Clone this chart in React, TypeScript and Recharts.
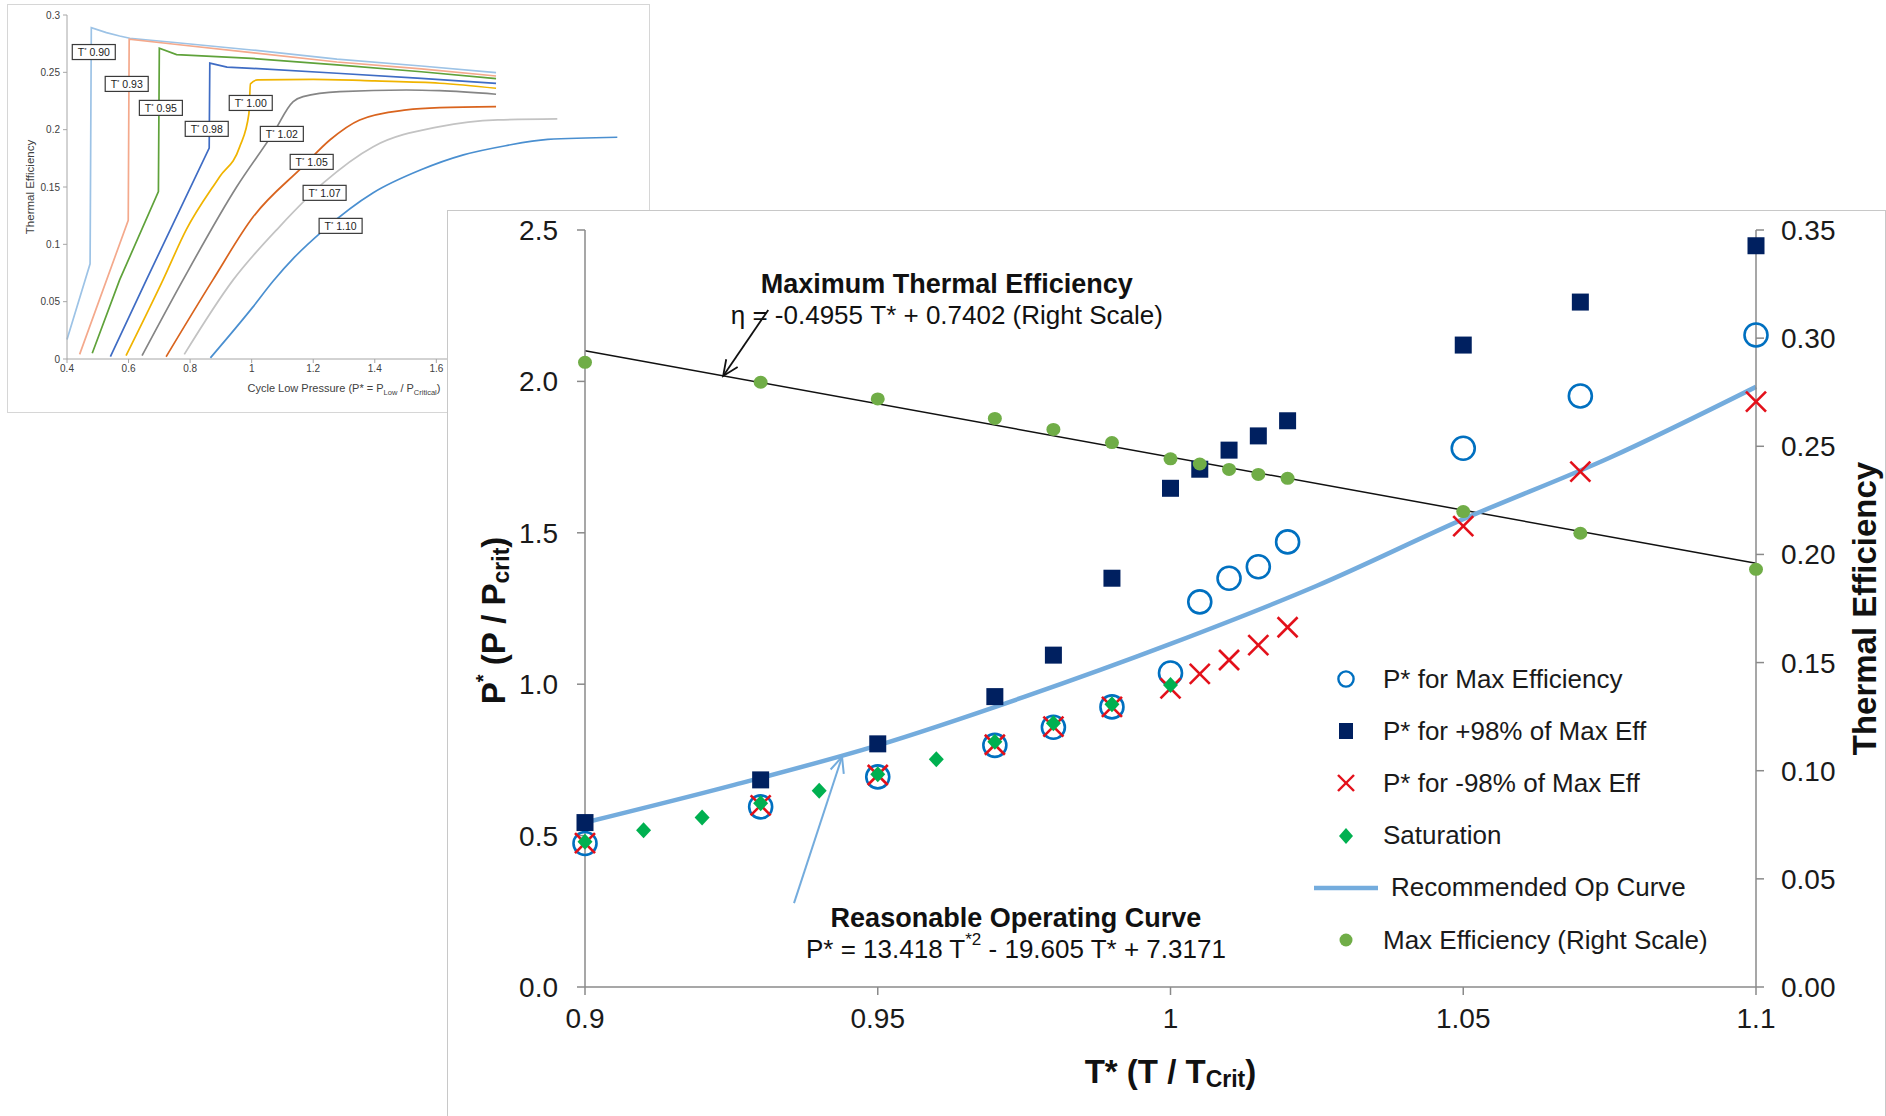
import React from "react"
import {
  ComposedChart,
  LineChart,
  Line,
  Scatter,
  XAxis,
  YAxis,
  ReferenceDot,
  ReferenceLine,
  Legend,
  Label,
} from "recharts"

const FONT = '"Liberation Sans", Arial, Helvetica, sans-serif'

// ---- main chart: T* = T / Tcrit ----
const tStar = [0.9, 0.93, 0.95, 0.97, 0.98, 0.99, 1.0, 1.005, 1.01, 1.015, 1.02, 1.05, 1.07, 1.1]
const pForMaxEff = [0.474, 0.595, 0.694, 0.798, 0.858, 0.925, 1.037, 1.272, 1.35, 1.388, 1.47, 1.779, 1.952, 2.153]
const pPlus98 = [0.543, 0.684, 0.803, 0.959, 1.096, 1.35, 1.647, 1.71, 1.773, 1.82, 1.87, 2.12, 2.262, 2.448]
const pMinus98 = [0.475, 0.6, 0.7, 0.8, 0.86, 0.925, 0.986, 1.034, 1.08, 1.129, 1.188, 1.522, 1.702, 1.933]
const maxEff = [0.2888, 0.2796, 0.2719, 0.2629, 0.2578, 0.2517, 0.2442, 0.2418, 0.2393, 0.237, 0.2352, 0.2198, 0.2098, 0.1931]

const satT = [0.9, 0.91, 0.92, 0.93, 0.94, 0.95, 0.96, 0.97, 0.98, 0.99, 1.0]
const satP = [0.48, 0.518, 0.56, 0.607, 0.648, 0.703, 0.752, 0.81, 0.871, 0.934, 0.997]

const opCurveT = [0.9, 0.925, 0.95, 0.975, 1.0, 1.025, 1.05, 1.075, 1.1]
const opCurveP = [0.543, 0.665, 0.798, 0.958, 1.133, 1.325, 1.545, 1.748, 1.982]

const trendT = [0.9, 1.1]
const trendEff = [0.2942, 0.1959]

const xTicks = [0.9, 0.95, 1, 1.05, 1.1]
const leftTicks = [0, 0.5, 1, 1.5, 2, 2.5]
const rightTicks = [0, 0.05, 0.1, 0.15, 0.2, 0.25, 0.3, 0.35]

// ---- inset: efficiency vs cycle low pressure, one curve per T* ----
const p090 = [0.4, 0.475, 0.479, 0.528, 0.571, 0.604, 0.75, 1.0, 1.277, 1.551, 1.794]
const eff090 = [0.017, 0.083, 0.289, 0.2846, 0.2817, 0.2797, 0.276, 0.2695, 0.2615, 0.2555, 0.2497]
const p093 = [0.441, 0.599, 0.602, 0.75, 1.0, 1.277, 1.551, 1.794]
const eff093 = [0.004, 0.121, 0.279, 0.2745, 0.2672, 0.259, 0.253, 0.2468]
const p095 = [0.482, 0.571, 0.697, 0.7, 0.756, 1.0, 1.277, 1.551, 1.794]
const eff095 = [0.005, 0.069, 0.146, 0.271, 0.2655, 0.2622, 0.2565, 0.2505, 0.2445]
const p098 = [0.541, 0.658, 0.862, 0.864, 0.92, 1.0, 1.277, 1.551, 1.794]
const eff098 = [0.002, 0.069, 0.184, 0.258, 0.2545, 0.2535, 0.2492, 0.2448, 0.2404]
const p100 = [0.592, 0.712, 0.788, 0.896, 0.961, 0.991, 0.996, 1.02, 1.2, 1.4, 1.611, 1.794]
const eff100 = [0.003, 0.069, 0.113, 0.159, 0.185, 0.214, 0.24, 0.2435, 0.2438, 0.2425, 0.2405, 0.2361]
const p102 = [0.644, 0.777, 0.951, 1.07, 1.135, 1.167, 1.286, 1.503, 1.611, 1.794]
const eff102 = [0.003, 0.069, 0.15, 0.197, 0.2245, 0.2288, 0.2332, 0.2346, 0.234, 0.2309]
const p105 = [0.722, 0.874, 1.005, 1.167, 1.254, 1.351, 1.503, 1.611, 1.794]
const eff105 = [0.002, 0.069, 0.124, 0.168, 0.191, 0.2085, 0.2172, 0.2192, 0.2201]
const p107 = [0.781, 0.94, 1.091, 1.232, 1.395, 1.611, 1.8, 1.993]
const eff107 = [0.004, 0.069, 0.1155, 0.1533, 0.1852, 0.2027, 0.2085, 0.2094]
const p110 = [0.866, 1.003, 1.07, 1.14, 1.232, 1.395, 1.55, 1.688, 1.825, 1.962, 2.188]
const eff110 = [0.001, 0.045, 0.068, 0.089, 0.112, 0.145, 0.165, 0.178, 0.186, 0.1915, 0.1934]

const insetNames = ["0.90", "0.93", "0.95", "0.98", "1.00", "1.02", "1.05", "1.07", "1.10"]
// where each curve's tag box sits (pressure, efficiency)
const tagP = [0.487, 0.594, 0.705, 0.854, 0.997, 1.098, 1.195, 1.237, 1.289]
const tagEff = [0.2677, 0.2399, 0.219, 0.2007, 0.2233, 0.1963, 0.1719, 0.1449, 0.1161]

const insetXTicks = [0.4, 0.6, 0.8, 1, 1.2, 1.4, 1.6, 1.8, 2, 2.2]
const insetYTicks = [0, 0.05, 0.1, 0.15, 0.2, 0.25, 0.3]

const zip = (xs: number[], ys: number[]) => xs.map((x, i) => ({ x, y: ys[i] }))

const insetCurves = [
  { p: p090, eff: eff090, color: "#9DC3E6", type: "linear" },
  { p: p093, eff: eff093, color: "#F4A98C", type: "linear" },
  { p: p095, eff: eff095, color: "#5FA23A", type: "linear" },
  { p: p098, eff: eff098, color: "#3F6CC4", type: "linear" },
  { p: p100, eff: eff100, color: "#F0B400", type: "monotone" },
  { p: p102, eff: eff102, color: "#858585", type: "monotone" },
  { p: p105, eff: eff105, color: "#D9641E", type: "monotone" },
  { p: p107, eff: eff107, color: "#C3C3C3", type: "monotone" },
  { p: p110, eff: eff110, color: "#4A8FD0", type: "monotone" },
]

const C_CIRCLE = "#0070C0"
const C_SQUARE = "#002060"
const C_CROSS = "#E3101A"
const C_DIAMOND = "#00B050"
const C_DOT = "#70AD47"
const C_CURVE = "#74ACDD"
const AXIS = "#8A8A8A"

const openCircle = (p: any) => (
  <circle cx={p.cx} cy={p.cy} r={11.5} fill="none" stroke={C_CIRCLE} strokeWidth={2.6} />
)
const square = (p: any) => <rect x={p.cx - 8.5} y={p.cy - 8.5} width={17} height={17} fill={C_SQUARE} />
const cross = (p: any) => (
  <g stroke={C_CROSS} strokeWidth={2.6}>
    <line x1={p.cx - 10} y1={p.cy - 10} x2={p.cx + 10} y2={p.cy + 10} />
    <line x1={p.cx - 10} y1={p.cy + 10} x2={p.cx + 10} y2={p.cy - 10} />
  </g>
)
const diamond = (p: any) => (
  <path
    d={`M${p.cx},${p.cy - 8} L${p.cx + 7.5},${p.cy} L${p.cx},${p.cy + 8} L${p.cx - 7.5},${p.cy} Z`}
    fill={C_DIAMOND}
  />
)
const dot = (p: any) => <ellipse cx={p.cx} cy={p.cy} rx={7} ry={6.5} fill={C_DOT} />

const arrow = (color: string, w: number) => (p: any) => {
  const { x1, y1, x2, y2 } = p
  const a = Math.atan2(y2 - y1, x2 - x1)
  const L = 17
  const s = 0.42
  const h1 = `${x2 - L * Math.cos(a - s)},${y2 - L * Math.sin(a - s)}`
  const h2 = `${x2 - L * Math.cos(a + s)},${y2 - L * Math.sin(a + s)}`
  return (
    <g stroke={color} strokeWidth={w} fill="none">
      <line x1={x1} y1={y1} x2={x2} y2={y2} />
      <polyline points={`${h1} ${x2},${y2} ${h2}`} />
    </g>
  )
}

const note = (lines: React.ReactNode[]) => (p: any) => (
  <g>
    {lines.map((l, i) => (
      <text key={i} x={p.cx} y={p.cy + i * 31} textAnchor="middle" dominantBaseline="central" fill="#111" fontFamily={FONT}>
        {l}
      </text>
    ))}
  </g>
)

const legendRows = [
  { label: "P* for Max Efficiency", kind: "circle" },
  { label: "P* for +98% of Max Eff", kind: "square" },
  { label: "P* for -98% of Max Eff", kind: "cross" },
  { label: "Saturation", kind: "diamond" },
  { label: "Recommended Op Curve", kind: "line" },
  { label: "Max Efficiency (Right Scale)", kind: "dot" },
]

function LegendIcon({ kind }: { kind: string }) {
  return (
    <svg width={80} height={30}>
      {kind === "circle" && <circle cx={40} cy={15} r={7.6} fill="none" stroke={C_CIRCLE} strokeWidth={2.4} />}
      {kind === "square" && <rect x={33} y={7} width={14} height={16} fill={C_SQUARE} />}
      {kind === "cross" && (
        <g stroke={C_CROSS} strokeWidth={2.4}>
          <line x1={32} y1={7} x2={48} y2={23} />
          <line x1={32} y1={23} x2={48} y2={7} />
        </g>
      )}
      {kind === "diamond" && <path d="M40,7 L47,15 L40,23 L33,15 Z" fill={C_DIAMOND} />}
      {kind === "line" && <line x1={8} y1={15} x2={72} y2={15} stroke={C_CURVE} strokeWidth={4.5} />}
      {kind === "dot" && <ellipse cx={40} cy={15} rx={6.5} ry={6.5} fill={C_DOT} />}
    </svg>
  )
}

const renderLegend = () => (
  <div style={{ fontFamily: FONT, fontSize: 26, color: "#1a1a1a" }}>
    {legendRows.map((r) => (
      <div key={r.label} style={{ display: "flex", alignItems: "center", height: 52.2 }}>
        <LegendIcon kind={r.kind} />
        <span style={{ marginLeft: r.kind === "line" ? 5 : -3, whiteSpace: "nowrap" }}>{r.label}</span>
      </div>
    ))}
  </div>
)

const insetTag = (name: string) => (p: any) => (
  <g>
    <rect x={p.cx - 21.5} y={p.cy - 7.5} width={43} height={15} fill="#fff" stroke="#3a3a3a" strokeWidth={1.2} />
    <text x={p.cx} y={p.cy + 3.8} textAnchor="middle" fontSize={10.5} fill="#222" fontFamily={FONT}>
      T<tspan dy={-4} fontSize={6}>*</tspan>
      <tspan dy={4}> {name}</tspan>
    </text>
  </g>
)

function Inset() {
  return (
    <div style={{ position: "absolute", left: 7, top: 4, width: 643, height: 409, background: "#fff" }}>
      <LineChart width={643} height={409} margin={{ top: 11, right: 29, bottom: 0, left: 0 }}>
        <XAxis
          type="number"
          dataKey="x"
          domain={[0.4, 2.2]}
          ticks={insetXTicks}
          height={54}
          stroke="#A6A6A6"
          tickSize={4}
          tickMargin={2}
          tick={{ fontSize: 10, fill: "#404040", fontFamily: FONT }}
        >
          <Label
            content={(p: any) => (
              <text x={p.viewBox.x + p.viewBox.width / 2} y={p.viewBox.y + 33} textAnchor="middle" fontSize={11} fill="#404040" fontFamily={FONT}>
                Cycle Low Pressure (P* = P<tspan dy={3} fontSize={7.5}>Low</tspan>
                <tspan dy={-3}> / P</tspan>
                <tspan dy={3} fontSize={7.5}>Critical</tspan>
                <tspan dy={-3}>)</tspan>
              </text>
            )}
          />
        </XAxis>
        <YAxis
          type="number"
          domain={[0, 0.3]}
          ticks={insetYTicks}
          width={60}
          stroke="#A6A6A6"
          tickSize={4}
          tickMargin={3}
          tick={{ fontSize: 10, fill: "#404040", fontFamily: FONT }}
        >
          <Label
            content={(p: any) => {
              const cx = 22.5
              const cy = p.viewBox.y + p.viewBox.height / 2
              return (
                <text x={cx} y={cy} transform={`rotate(-90, ${cx}, ${cy})`} textAnchor="middle" dominantBaseline="central" fontSize={11.5} fill="#404040" fontFamily={FONT}>
                  Thermal Efficiency
                </text>
              )
            }}
          />
        </YAxis>
        {insetCurves.map((c, i) => (
          <Line
            key={insetNames[i]}
            data={zip(c.p, c.eff)}
            dataKey="y"
            type={c.type as any}
            stroke={c.color}
            strokeWidth={1.7}
            dot={false}
            activeDot={false}
            isAnimationActive={false}
          />
        ))}
        {insetNames.map((n, i) => (
          <ReferenceDot key={n} x={tagP[i]} y={tagEff[i]} ifOverflow="visible" shape={insetTag(n)} />
        ))}
      </LineChart>
      <div style={{ position: "absolute", inset: 0, border: "1.5px solid #D6D6D6", pointerEvents: "none" }} />
    </div>
  )
}

function MainChart() {
  const W = 1439
  const H = 906
  return (
    <div style={{ position: "absolute", left: 447, top: 210, width: W, height: H, background: "#fff" }}>
      <ComposedChart width={W} height={H} margin={{ top: 20, right: 0, bottom: 0, left: 0 }}>
        <XAxis
          type="number"
          dataKey="x"
          domain={[0.9, 1.1]}
          ticks={xTicks}
          height={129}
          stroke={AXIS}
          strokeWidth={1.5}
          tickSize={8}
          tickMargin={13}
          tick={{ fontSize: 28, fill: "#1a1a1a", fontFamily: FONT }}
          tickFormatter={(v: number) => String(v)}
        >
          <Label
            content={(p: any) => (
              <text x={p.viewBox.x + p.viewBox.width / 2} y={p.viewBox.y + 84} textAnchor="middle" dominantBaseline="central" fontSize={33} fontWeight="bold" fill="#111" fontFamily={FONT}>
                T* (T / T<tspan dy={8} fontSize={23}>Crit</tspan>
                <tspan dy={-8}>)</tspan>
              </text>
            )}
          />
        </XAxis>
        <YAxis
          yAxisId="left"
          type="number"
          domain={[0, 2.5]}
          ticks={leftTicks}
          width={138}
          stroke={AXIS}
          strokeWidth={1.5}
          tickSize={8}
          tickMargin={19}
          tick={{ fontSize: 28, fill: "#1a1a1a", fontFamily: FONT }}
          tickFormatter={(v: number) => v.toFixed(1)}
        >
          <Label
            content={(p: any) => {
              const cx = p.viewBox.x + 46
              const cy = p.viewBox.y + p.viewBox.height / 2 + 12
              return (
                <text x={cx} y={cy} transform={`rotate(-90, ${cx}, ${cy})`} textAnchor="middle" dominantBaseline="central" fontSize={33} fontWeight="bold" fill="#111" fontFamily={FONT}>
                  P<tspan dy={-10} fontSize={20}>*</tspan>
                  <tspan dy={10}> (P / P</tspan>
                  <tspan dy={8} fontSize={23}>crit</tspan>
                  <tspan dy={-8}>)</tspan>
                </text>
              )
            }}
          />
        </YAxis>
        <YAxis
          yAxisId="right"
          orientation="right"
          type="number"
          domain={[0, 0.35]}
          ticks={rightTicks}
          width={130}
          stroke={AXIS}
          strokeWidth={1.5}
          tickSize={8}
          tickMargin={17}
          tick={{ fontSize: 28, fill: "#1a1a1a", fontFamily: FONT }}
          tickFormatter={(v: number) => v.toFixed(2)}
        >
          <Label
            content={(p: any) => {
              const cx = p.viewBox.x + 108
              const cy = p.viewBox.y + p.viewBox.height / 2
              return (
                <text x={cx} y={cy} transform={`rotate(-90, ${cx}, ${cy})`} textAnchor="middle" dominantBaseline="central" fontSize={33} fontWeight="bold" fill="#111" fontFamily={FONT}>
                  Thermal Efficiency
                </text>
              )
            }}
          />
        </YAxis>

        <Line
          yAxisId="right"
          data={zip(trendT, trendEff)}
          dataKey="y"
          type="linear"
          stroke="#111"
          strokeWidth={1.5}
          dot={false}
          activeDot={false}
          isAnimationActive={false}
        />
        <Line
          yAxisId="left"
          data={zip(opCurveT, opCurveP)}
          dataKey="y"
          type="monotone"
          stroke={C_CURVE}
          strokeWidth={4.5}
          dot={false}
          activeDot={false}
          isAnimationActive={false}
        />
        <Scatter yAxisId="left" data={zip(tStar, pForMaxEff)} dataKey="y" shape={openCircle} isAnimationActive={false} />
        <Scatter yAxisId="left" data={zip(tStar, pPlus98)} dataKey="y" shape={square} isAnimationActive={false} />
        <Scatter yAxisId="left" data={zip(tStar, pMinus98)} dataKey="y" shape={cross} isAnimationActive={false} />
        <Scatter yAxisId="left" data={zip(satT, satP)} dataKey="y" shape={diamond} isAnimationActive={false} />
        <Scatter yAxisId="right" data={zip(tStar, maxEff)} dataKey="y" shape={dot} isAnimationActive={false} />

        <ReferenceLine
          yAxisId="left"
          segment={[{ x: 0.9313, y: 2.236 }, { x: 0.9236, y: 2.018 }]}
          ifOverflow="visible"
          shape={arrow("#111", 1.8)}
        />
        <ReferenceLine
          yAxisId="left"
          segment={[{ x: 0.9357, y: 0.277 }, { x: 0.9439, y: 0.76 }]}
          ifOverflow="visible"
          shape={arrow(C_CURVE, 2)}
        />
        <ReferenceDot
          yAxisId="left"
          x={0.9618}
          y={2.322}
          ifOverflow="visible"
          shape={note([
            <tspan fontSize={27} fontWeight="bold">Maximum Thermal Efficiency</tspan>,
            <tspan fontSize={26}>η = -0.4955 T* + 0.7402 (Right Scale)</tspan>,
          ])}
        />
        <ReferenceDot
          yAxisId="left"
          x={0.9736}
          y={0.228}
          ifOverflow="visible"
          shape={note([
            <tspan fontSize={27} fontWeight="bold">Reasonable Operating Curve</tspan>,
            <tspan fontSize={26}>
              P* = 13.418 T<tspan dy={-10} fontSize={17}>*2</tspan>
              <tspan dy={10}> - 19.605 T* + 7.3171</tspan>
            </tspan>,
          ])}
        />

        <Legend
          layout="vertical"
          align="center"
          verticalAlign="middle"
          wrapperStyle={{ position: "absolute", left: 859, top: 443, width: 470, height: 320 }}
          content={renderLegend}
        />
      </ComposedChart>
      <div
        style={{
          position: "absolute",
          inset: 0,
          borderLeft: "1.5px solid #C8C8C8",
          borderTop: "1.5px solid #C8C8C8",
          borderRight: "1.5px solid #C8C8C8",
          pointerEvents: "none",
        }}
      />
    </div>
  )
}

export default function App() {
  return (
    <div style={{ position: "absolute", left: 0, top: 0, width: 1886, height: 1116, background: "#fff", overflow: "hidden", fontFamily: FONT }}>
      <Inset />
      <MainChart />
    </div>
  )
}
